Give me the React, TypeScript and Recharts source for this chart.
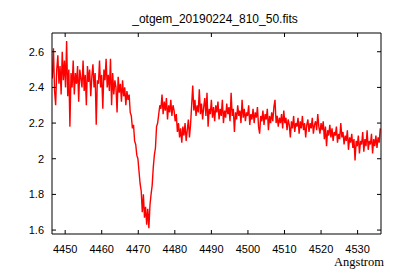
import { LineChart, Line, XAxis, YAxis } from "recharts";

// linear dispersion of the spectrum (start wavelength + step, Angstrom)
const WAVE_START = 4446.5;
const WAVE_STEP = 0.3;

// flux, one value per step
const FLUX_BLUE = [
  2.45, 2.62, 2.38, 2.3, 2.5, 2.58, 2.42, 2.52, 2.36, 2.6,
  2.44, 2.55, 2.4, 2.66, 2.35, 2.5, 2.18, 2.48, 2.4, 2.55,
  2.36, 2.48, 2.42, 2.52, 2.32, 2.5, 2.45, 2.4, 2.55, 2.38,
  2.47, 2.3, 2.52, 2.43, 2.5, 2.35, 2.46, 2.53, 2.4, 2.48,
  2.19, 2.44, 2.42, 2.55, 2.4, 2.47, 2.28, 2.5, 2.44, 2.56,
  2.4, 2.47,
  2.38, 2.56, 2.3, 2.48, 2.36, 2.44, 2.4, 2.26, 2.46, 2.37,
  2.42, 2.32, 2.44, 2.35, 2.4, 2.3, 2.38, 2.33, 2.36, 2.26,
];

const FLUX_LINE = [
  2.24, 2.17, 2.19, 2.1, 2.08, 2.02, 2.0, 1.93, 1.86, 1.82,
  1.7, 1.8, 1.67, 1.73, 1.63, 1.72, 1.61, 1.74, 1.8, 1.85,
  1.95, 2.02, 2.06, 2.18, 2.2, 2.25, 2.3,
  2.28, 2.36, 2.25, 2.32, 2.27, 2.34, 2.22, 2.3, 2.26, 2.33,
  2.24, 2.3, 2.27, 2.21, 2.25, 2.15, 2.2, 2.12, 2.17, 2.09,
  2.18, 2.13, 2.2, 2.1, 2.16, 2.22, 2.12, 2.19,
];

const FLUX_RED = [
  2.3, 2.41, 2.27, 2.33, 2.24, 2.3, 2.26, 2.39, 2.25, 2.31,
  2.22, 2.29, 2.34, 2.24, 2.37, 2.18, 2.28, 2.25, 2.33, 2.23,
  2.29, 2.21, 2.3, 2.26, 2.32, 2.22, 2.28, 2.24, 2.33, 2.2,
  2.27, 2.23, 2.31, 2.25, 2.29, 2.21, 2.37, 2.24, 2.28, 2.15,
  2.26, 2.22, 2.3, 2.24, 2.27, 2.2, 2.33, 2.23, 2.28, 2.21,
  2.26, 2.24, 2.3, 2.19, 2.25, 2.22, 2.28, 2.2, 2.26, 2.23,
  2.29, 2.18, 2.14, 2.24, 2.21, 2.27, 2.19, 2.25, 2.22, 2.28,
  2.16, 2.24, 2.2, 2.26, 2.21, 2.29, 2.33, 2.2, 2.24, 2.18,
  2.23, 2.2, 2.25, 2.17, 2.27, 2.2, 2.23, 2.16, 2.22, 2.19,
  2.12, 2.21, 2.17, 2.24, 2.15, 2.2, 2.18, 2.23, 2.14, 2.21,
  2.17, 2.24, 2.16, 2.2, 2.12, 2.19, 2.22, 2.15, 2.2, 2.17,
  2.23, 2.14, 2.19, 2.21, 2.16, 2.25, 2.18, 2.14, 2.2, 2.16,
  2.21, 2.11, 2.18, 2.07, 2.16, 2.13, 2.19, 2.12, 2.17, 2.1,
  2.15, 2.13, 2.18, 2.09, 2.14, 2.11, 2.2, 2.12, 2.15, 2.08,
  2.13, 2.1, 2.16, 2.05, 2.12, 2.09, 2.14, 2.06, 2.11, 1.99,
  2.1, 2.07, 2.13, 2.03, 2.1, 2.08, 2.15, 2.04, 2.11, 2.07,
  2.16, 2.05, 2.1, 2.08, 2.14, 2.03, 2.11, 2.07, 2.13, 2.06,
  2.12, 2.09, 2.17,
];

const X_TICKS = [4450, 4460, 4470, 4480, 4490, 4500, 4510, 4520, 4530];
const Y_TICKS = [1.6, 1.8, 2, 2.2, 2.4, 2.6];
const X_DOMAIN = [4446.4, 4536.4];
const Y_DOMAIN = [1.578, 2.705];

const TITLE = "_otgem_20190224_810_50.fits";
const X_LABEL = "Angstrom";

const data = [...FLUX_BLUE, ...FLUX_LINE, ...FLUX_RED].map((flux, i) => ({
  wave: WAVE_START + i * WAVE_STEP,
  flux,
}));

const tickFont = { fontSize: 11, fill: "#000", fontFamily: "Liberation Sans, Arial, sans-serif" };
const noLabel = () => null;

export default function App() {
  return (
    <div style={{ position: "absolute", left: 0, top: 0, width: 400, height: 280, background: "#fff" }}>
      <div
        style={{
          position: "absolute",
          left: 0,
          width: 430,
          top: 12,
          lineHeight: "14px",
          textAlign: "center",
          fontFamily: "Liberation Sans, Arial, sans-serif",
          fontSize: 12,
          color: "#000",
        }}
      >
        {TITLE}
      </div>
      <div
        style={{
          position: "absolute",
          right: 16,
          top: 256,
          lineHeight: "13px",
          fontFamily: "Liberation Serif, Times New Roman, serif",
          fontSize: 12.5,
          color: "#000",
        }}
      >
        {X_LABEL}
      </div>
      <LineChart width={400} height={280} data={data} margin={{ top: 0, right: 0, bottom: 0, left: 0 }}>
        <XAxis
          dataKey="wave"
          type="number"
          domain={X_DOMAIN}
          ticks={X_TICKS}
          allowDataOverflow
          height={46}
          stroke="#000"
          tickSize={-4}
          tickMargin={15}
          tick={tickFont}
        />
        <XAxis
          xAxisId="top"
          orientation="top"
          dataKey="wave"
          type="number"
          domain={X_DOMAIN}
          ticks={X_TICKS}
          allowDataOverflow
          height={33}
          stroke="#000"
          tickSize={-4}
          tick={noLabel}
        />
        <YAxis
          type="number"
          domain={Y_DOMAIN}
          ticks={Y_TICKS}
          allowDataOverflow
          width={52}
          stroke="#000"
          tickSize={-4}
          tickMargin={12}
          tick={tickFont}
        />
        <YAxis
          yAxisId="right"
          orientation="right"
          type="number"
          domain={Y_DOMAIN}
          ticks={Y_TICKS}
          allowDataOverflow
          width={19}
          stroke="#000"
          tickSize={-4}
          tick={noLabel}
        />
        <Line
          dataKey="flux"
          type="linear"
          stroke="#ff0000"
          strokeWidth={1.4}
          dot={false}
          isAnimationActive={false}
        />
      </LineChart>
    </div>
  );
}
